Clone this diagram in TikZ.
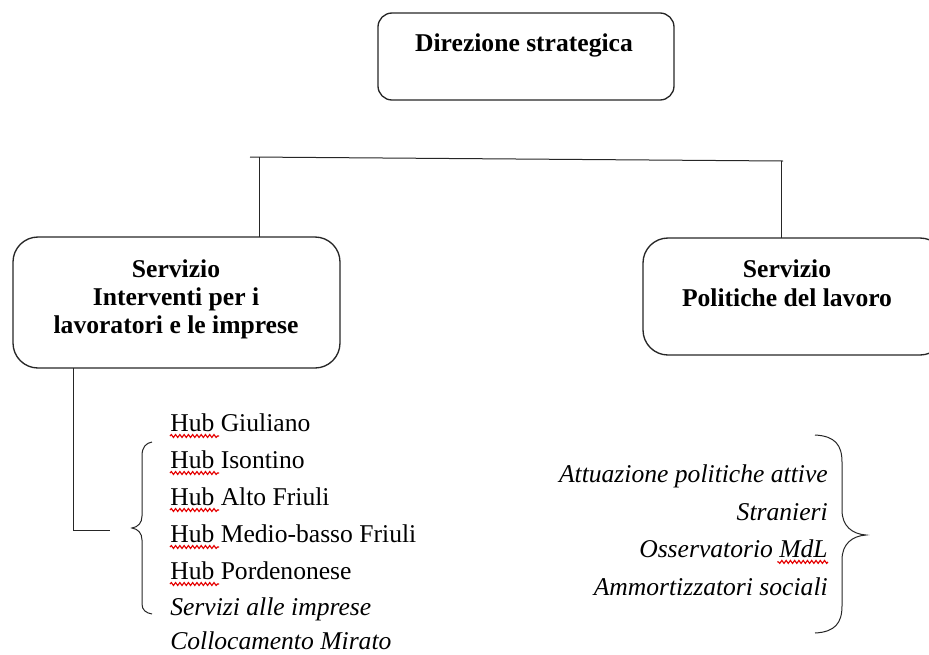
\documentclass[tikz,border=0pt]{standalone}
\usepackage{fontspec}
\setmainfont{Liberation Serif}
\usetikzlibrary{decorations.pathmorphing}
\begin{document}
\begin{tikzpicture}[x=0.75pt,y=-0.75pt,
  box/.style={draw=black!85, line width=1pt, inner sep=0pt, outer sep=0pt},
  bt/.style={inner sep=0pt, anchor=base, font=\fontsize{19.2}{22}\selectfont\bfseries},
  lt/.style={inner sep=0pt, anchor=base west, font=\fontsize{19.2}{22}\selectfont},
  rt/.style={inner sep=0pt, anchor=base east, font=\fontsize{19.2}{22}\selectfont\itshape},
  conn/.style={line width=0.75pt, draw=black!85},
  squig/.style={draw=red!90!black, line width=0.85pt, decorate, decoration={snake, amplitude=1.1pt, segment length=3.2pt}}]
\useasboundingbox (0,0) rectangle (929,654);

% boxes
\node[box, rounded corners=10.5pt, minimum width=222pt, minimum height=65.25pt] (top) at (526,56.5) {};
\node[box, rounded corners=18.75pt, minimum width=245.25pt, minimum height=98.25pt] (boxL) at (176.5,302.5) {};
\node[box, rounded corners=18.75pt, minimum width=226.5pt, minimum height=87.75pt] (boxR) at (794,296.5) {};

% box texts
\node[bt] (t1) at (524,51) {Direzione strategica};
\node[bt] (l1) at (176,277) {Servizio};
\node[bt] (l2) at (176,305) {Interventi per i};
\node[bt] (l3) at (176,333) {lavoratori e le imprese};
\node[bt] (r1) at (787,277) {Servizio};
\node[bt] (r2) at (787,306) {Politiche del lavoro};

% connectors
\coordinate (hl) at (250,157);
\coordinate (hr) at (783,161);
\coordinate (jl) at (259,157.2);
\coordinate (jr) at (781,161);
\draw[conn] (hl) -- (hr);
\draw[conn] (jl) -- (jl |- boxL.north);
\draw[conn] (jr) -- (jr |- boxR.north);
\coordinate (dl) at (73,530);
\coordinate (de) at (110,530);
\draw[conn] (boxL.south -| dl) -- (dl) -- (de);

% left brace
\draw[conn] (152,442) .. controls (146,443) and (142,447) .. (142,456) -- (142,516)
  .. controls (142,523) and (138,527) .. (132,528)
  .. controls (138,529) and (142,533) .. (142,540) -- (142,604)
  .. controls (142,610) and (146,613) .. (152,614);

% right brace
\draw[conn] (815,435) .. controls (835,436) and (842,445) .. (842,462) -- (842,510)
  .. controls (842,526) and (852,534) .. (866,535)
  .. controls (852,536) and (842,544) .. (842,560) -- (842,606)
  .. controls (842,623) and (835,632) .. (815,633);

% left list
\node[lt] (h1) at (170,431) {Hub Giuliano};
\node[lt] (h2) at (170,468) {Hub Isontino};
\node[lt] (h3) at (170,505) {Hub Alto Friuli};
\node[lt] (h4) at (170,542) {Hub Medio-basso Friuli};
\node[lt] (h5) at (170,579) {Hub Pordenonese};
\node[lt, font=\fontsize{19.2}{22}\selectfont\itshape] (h6) at (170,615.5) {Servizi alle imprese};
\node[lt, font=\fontsize{19.2}{22}\selectfont\itshape] (h7) at (170,649) {Collocamento Mirato};

\foreach \n in {h1,h2,h3,h4,h5}{
  \draw[squig] ([yshift=-3.75pt]\n.base west) -- ++(49,0);
}

% right list
\node[rt] (p1) at (828,482) {Attuazione politiche attive};
\node[rt] (p2) at (828,520) {Stranieri};
\node[rt] (p3) at (828,557.5) {Osservatorio MdL};
\node[rt] (p4) at (828,595) {Ammortizzatori sociali};
\draw[squig] ([yshift=-3.3pt]p3.base east) -- ++(-51,0);

\end{tikzpicture}
\end{document}
